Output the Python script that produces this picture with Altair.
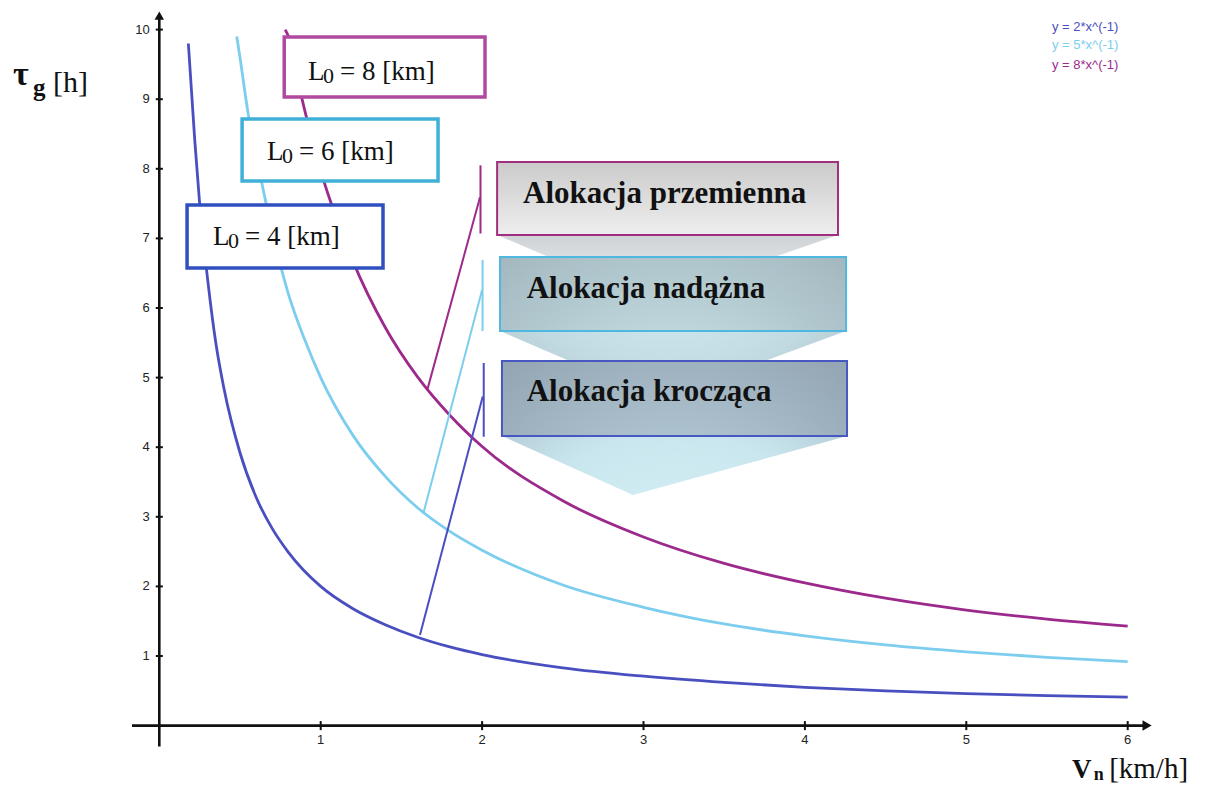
import altair as alt
import pandas as pd

# ---------------- data ----------------
series_names = ["y = 2*x^(-1)", "y = 5*x^(-1)", "y = 8*x^(-1)"]

blue_x = [0.18, 0.2, 0.22, 0.25, 0.3, 0.35, 0.4, 0.5, 0.6, 0.7, 0.8, 1.0, 1.2, 1.4, 1.6, 1.8, 2.0, 2.5, 3.0, 3.5, 4.0, 4.5, 5.0, 5.5, 6.0]
blue_y = [9.8, 9.1, 8.4, 7.5, 6.4, 5.5, 4.85, 3.92, 3.28, 2.83, 2.49, 2.0, 1.68, 1.45, 1.27, 1.13, 1.02, 0.83, 0.71, 0.62, 0.55, 0.5, 0.46, 0.43, 0.41]

lblue_x = [0.48, 0.5, 0.55, 0.6, 0.7, 0.8, 0.9, 1.0, 1.2, 1.4, 1.6, 1.8, 2.0, 2.5, 3.0, 3.5, 4.0, 4.5, 5.0, 5.5, 6.0]
lblue_y = [9.9, 9.6, 8.8, 8.2, 7.1, 6.2, 5.55, 5.0, 4.17, 3.58, 3.13, 2.79, 2.52, 2.02, 1.70, 1.46, 1.29, 1.16, 1.06, 0.98, 0.92]

purple_x = [0.78, 0.8, 0.85, 0.9, 1.0, 1.1, 1.2, 1.4, 1.6, 1.8, 2.0, 2.5, 3.0, 3.5, 4.0, 4.5, 5.0, 5.5, 6.0]
purple_y = [10.0, 9.9, 9.35, 8.85, 7.97, 7.27, 6.67, 5.72, 5.01, 4.46, 4.01, 3.23, 2.71, 2.33, 2.05, 1.83, 1.66, 1.53, 1.43]

curve_colors = ["#4a4fc0", "#7ccdee", "#9c2a8c"]
legend_colors = ["#6060c8", "#a8dcf0", "#a04ca8"]

x_ticks = [1, 2, 3, 4, 5, 6]
y_ticks = [1, 2, 3, 4, 5, 6, 7, 8, 9, 10]

label_texts = ["= 8 [km]", "= 6 [km]", "= 4 [km]"]
alloc_texts = ["Alokacja przemienna", "Alokacja nadążna", "Alokacja krocząca"]

# ---------------- layout ----------------
PAD = 4
W, H = 1190 - 2 * PAD, 777 - 2 * PAD
# page pixel of x=0 / y=0 and pixels per unit
X0, SX = 159.3, 161.4
Y0, SY = 725.6, 69.6
XMIN, XMAX = (8 + PAD - X0) / SX, (8 + PAD + W - X0) / SX
YMAX, YMIN = (Y0 - 8 - PAD) / SY, (Y0 - 8 - PAD - H) / SY

xs = alt.Scale(domain=[XMIN, XMAX], nice=False, zero=False)
ys = alt.Scale(domain=[YMIN, YMAX], nice=False, zero=False)


def X(f="x"):
    return alt.X(f"{f}:Q", scale=xs, axis=None)


def Y(f="y"):
    return alt.Y(f"{f}:Q", scale=ys, axis=None)


layers = []

# curves
rows = []
for name, xv, yv in zip(series_names, [blue_x, lblue_x, purple_x], [blue_y, lblue_y, purple_y]):
    for a, b in zip(xv, yv):
        rows.append({"series": name, "x": a, "y": b})
curves = alt.Chart(pd.DataFrame(rows)).mark_line(strokeWidth=2.8, interpolate="monotone").encode(
    x=X(), y=Y(),
    color=alt.Color("series:N", scale=alt.Scale(domain=series_names, range=curve_colors), legend=None),
    detail="series:N",
)
layers.append(curves)

# axes
axis_df = pd.DataFrame({"x": [-0.169, 0.0], "x2": [6.11, 0.0], "y": [0.0, -0.30], "y2": [0.0, 10.18]})
layers.append(alt.Chart(axis_df).mark_rule(color="#111", strokeWidth=2.6).encode(
    x=X(), x2=alt.X2("x2:Q"), y=Y(), y2=alt.Y2("y2:Q")))
arrow_r = pd.DataFrame({"x": [6.12], "y": [0.0]})
layers.append(alt.Chart(arrow_r).mark_point(shape="triangle-right", filled=True, color="#111", size=110, opacity=1).encode(x=X(), y=Y()))
arrow_u = pd.DataFrame({"x": [0.0], "y": [10.2]})
layers.append(alt.Chart(arrow_u).mark_point(shape="triangle-up", filled=True, color="#111", size=90, opacity=1).encode(x=X(), y=Y()))

# ticks
ytick_df = pd.DataFrame({"x": [-0.022] * len(y_ticks), "x2": [0.022] * len(y_ticks), "y": y_ticks, "t": [str(v) for v in y_ticks]})
layers.append(alt.Chart(ytick_df).mark_rule(color="#111", strokeWidth=2).encode(x=X(), x2=alt.X2("x2:Q"), y=Y()))
layers.append(alt.Chart(ytick_df).mark_text(align="right", baseline="middle", dx=-6, fontSize=13,
                                            font="Liberation Sans", color="#222").encode(
    x=X(), y=Y(), text="t:N"))
xtick_df = pd.DataFrame({"x": x_ticks, "y": [-0.065] * len(x_ticks), "y2": [0.065] * len(x_ticks), "t": [str(v) for v in x_ticks]})
layers.append(alt.Chart(xtick_df).mark_rule(color="#111", strokeWidth=2).encode(x=X(), y=Y(), y2=alt.Y2("y2:Q")))
layers.append(alt.Chart(xtick_df).mark_text(align="center", baseline="middle", dy=10, fontSize=13,
                                            font="Liberation Sans", color="#222").encode(
    x=X(), y=Y(), text="t:N"))

# pointer lines
pointer_colors = ["#4a50c8", "#3cb4e0", "#a0208f"]
ptr = pd.DataFrame({
    "s": ["b", "l", "p", "b", "l", "p"],
    "x": [1.615, 1.635, 1.66, 2.01, 2.003, 1.99],
    "x2": [2.004, 2.0, 1.987, 2.01, 2.003, 1.99],
    "y": [1.30, 3.04, 4.82, 5.21, 6.69, 8.05],
    "y2": [4.73, 6.26, 7.59, 4.15, 5.67, 7.07],
})
layers.append(alt.Chart(ptr).mark_rule(strokeWidth=2).encode(
    x=X(), x2=alt.X2("x2:Q"), y=Y(), y2=alt.Y2("y2:Q"),
    color=alt.Color("s:N", scale=alt.Scale(domain=["b", "l", "p"], range=pointer_colors), legend=None)))

# L0 label boxes
lbox = [
    (0.774, 2.018, 9.894, 9.032, "#b04aa0", 0.921, 9.276),
    (0.513, 1.727, 8.716, 7.825, "#40b0d8", 0.668, 8.126),
    (0.172, 1.386, 7.480, 6.575, "#3050c0", 0.333, 6.905),
]
for (x1, x2, y1, y2, col, tx, ty), lab in zip(lbox, label_texts):
    d = pd.DataFrame({"x": [x1], "x2": [x2], "y": [y1], "y2": [y2]})
    layers.append(alt.Chart(d).mark_rect(fill="white", stroke=col, strokeWidth=3.5).encode(
        x=X(), x2=alt.X2("x2:Q"), y=Y(), y2=alt.Y2("y2:Q")))
    t = pd.DataFrame({"x": [tx], "y": [ty], "a": ["L"], "b": ["0"], "c": [lab]})
    base = alt.Chart(t)
    layers.append(base.mark_text(align="left", baseline="alphabetic", font="Liberation Serif", fontSize=27, color="#111").encode(
        x=X(), y=Y(), text="a:N"))
    layers.append(base.mark_text(align="left", baseline="alphabetic", font="Liberation Serif", fontSize=22, dx=15, dy=3, color="#111").encode(
        x=X(), y=Y(), text="b:N"))
    layers.append(base.mark_text(align="left", baseline="alphabetic", font="Liberation Serif", fontSize=27, dx=32, color="#111").encode(
        x=X(), y=Y(), text="c:N"))


# allocation arrow (chevrons + boxes)
def grad_lin(c1, c2):
    return alt.LinearGradient(gradient="linear", stops=[alt.GradientStop(offset=0, color=c1), alt.GradientStop(offset=1, color=c2)],
                              x1=0, y1=0, x2=0, y2=1)


def grad_rad(c_in, c_mid, c_out, cy=1.0):
    return alt.RadialGradient(gradient="radial", stops=[alt.GradientStop(offset=0, color=c_in), alt.GradientStop(offset=0.5, color=c_mid),
                                                         alt.GradientStop(offset=1, color=c_out)],
                              x1=0.5, y1=cy, r1=0, x2=0.5, y2=cy, r2=1.0)


def chevron(xl, xr, yb, xt, yt, fill):
    d = pd.DataFrame({"x": [xl, xt, xr], "y": [yb, yb, yb], "y2": [yb, yt, yb]})
    return alt.Chart(d).mark_area(fill=fill, interpolate="linear", strokeWidth=0).encode(x=X(), y=Y(), y2=alt.Y2("y2:Q"))


layers.append(chevron(2.093, 4.205, 7.049, 3.04, 6.115, grad_lin("#cfd3d6", "#eef2f3")))
layers.append(chevron(2.111, 4.255, 5.670, 3.10, 4.68, grad_rad("#e2f7fb", "#c4dde4", "#a0b0b8", 0.0)))
layers.append(chevron(2.123, 4.261, 4.161, 2.935, 3.313, grad_rad("#ddf6fa", "#c9e6ee", "#98a8b8", 0.9)))

boxes = [
    (2.093, 4.205, 8.098, 7.049, "#a0307f", grad_lin("#cbcbcb", "#eeeeee"), 2.254, 7.504),
    (2.111, 4.255, 6.733, 5.670, "#50b8e0", grad_rad("#def5fa", "#b6cdd4", "#95a6ae"), 2.276, 6.139),
    (2.123, 4.261, 5.238, 4.161, "#4858c0", grad_rad("#c8e3ee", "#a5b9c6", "#8595a5"), 2.276, 4.668),
]
for (x1, x2, y1, y2, col, fill, tx, ty), txt in zip(boxes, alloc_texts):
    d = pd.DataFrame({"x": [x1], "x2": [x2], "y": [y1], "y2": [y2]})
    layers.append(alt.Chart(d).mark_rect(fill=fill, stroke=col, strokeWidth=2).encode(
        x=X(), x2=alt.X2("x2:Q"), y=Y(), y2=alt.Y2("y2:Q")))
    t = pd.DataFrame({"x": [tx], "y": [ty], "t": [txt]})
    layers.append(alt.Chart(t).mark_text(align="left", baseline="alphabetic", font="Liberation Serif", fontSize=31,
                                         fontWeight="bold", color="#111").encode(x=X(), y=Y(), text="t:N"))

# legend (top right)
leg = pd.DataFrame({"x": [5.531] * 3, "y": [10.037, 9.779, 9.491], "t": series_names})
layers.append(alt.Chart(leg).mark_text(align="left", baseline="middle", font="Liberation Sans", fontSize=13).encode(
    x=X(), y=Y(), text="t:N",
    color=alt.Color("t:N", scale=alt.Scale(domain=series_names, range=legend_colors), legend=None)))

# axis titles
yt = pd.DataFrame({"x": [-0.906, -0.783, -0.658], "y": [9.204, 9.046, 9.103], "t": ["τ", "g", "[h]"]})
layers.append(alt.Chart(yt.iloc[[0]]).mark_text(align="left", baseline="alphabetic", font="Liberation Serif", fontSize=34,
                                                fontWeight="bold", color="#111").encode(x=X(), y=Y(), text="t:N"))
layers.append(alt.Chart(yt.iloc[[1]]).mark_text(align="left", baseline="alphabetic", font="Liberation Serif", fontSize=25,
                                                fontWeight="bold", color="#111").encode(x=X(), y=Y(), text="t:N"))
layers.append(alt.Chart(yt.iloc[[2]]).mark_text(align="left", baseline="alphabetic", font="Liberation Serif", fontSize=30,
                                                color="#111").encode(x=X(), y=Y(), text="t:N"))

xt = pd.DataFrame({"x": [5.655, 5.79, 5.885], "y": [-0.753, -0.782, -0.753], "t": ["V", "n", "[km/h]"]})
layers.append(alt.Chart(xt.iloc[[0]]).mark_text(align="left", baseline="alphabetic", font="Liberation Serif", fontSize=27,
                                                fontWeight="bold", color="#111").encode(x=X(), y=Y(), text="t:N"))
layers.append(alt.Chart(xt.iloc[[1]]).mark_text(align="left", baseline="alphabetic", font="Liberation Serif", fontSize=18,
                                                fontWeight="bold", color="#111").encode(x=X(), y=Y(), text="t:N"))
layers.append(alt.Chart(xt.iloc[[2]]).mark_text(align="left", baseline="alphabetic", font="Liberation Serif", fontSize=29,
                                                color="#111").encode(x=X(), y=Y(), text="t:N"))

chart = alt.layer(*layers).properties(
    width=W, height=H, padding=PAD, autosize="none", background="white"
).configure_view(strokeWidth=0, stroke="transparent")

chart.save("out.html", embed_options={"renderer": "svg", "actions": False})
